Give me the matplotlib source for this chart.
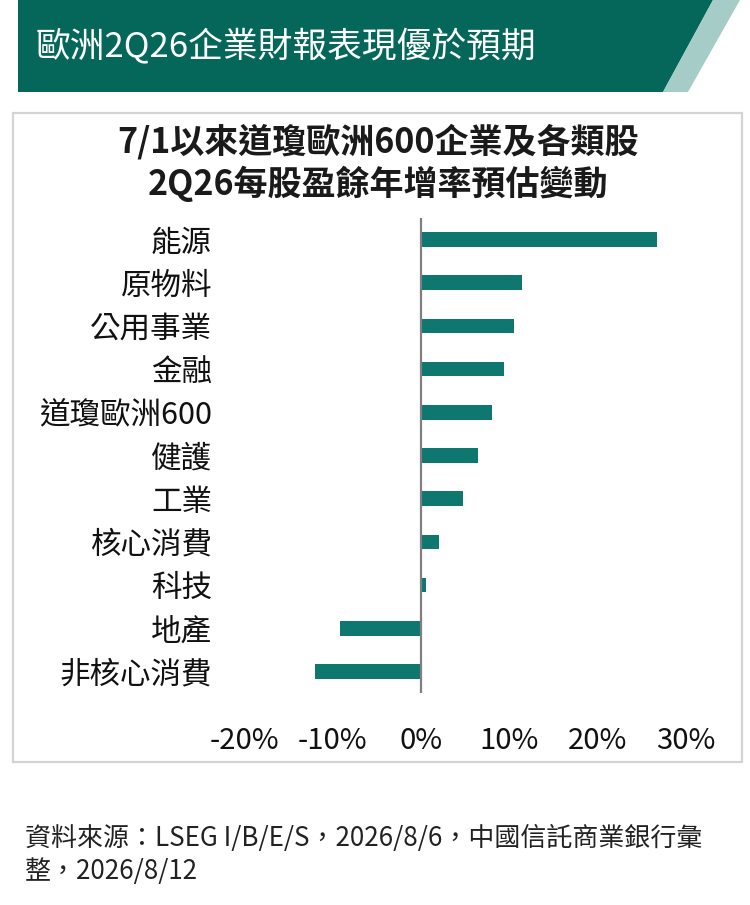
import matplotlib
matplotlib.use('Agg')
import matplotlib.pyplot as plt
from matplotlib.patches import Rectangle, Polygon

plt.rcParams['font.family'] = ['Noto Sans CJK TC', 'DejaVu Sans']

# data
categories = ['能源', '原物料', '公用事業', '金融', '道瓊歐洲600', '健護',
              '工業', '核心消費', '科技', '地產', '非核心消費']
eps_change = [26.7, 11.4, 10.5, 9.4, 8.0, 6.5, 4.8, 2.1, 0.6, -9.1, -12.0]
x_ticks = [-20, -10, 0, 10, 20, 30]
x_tick_labels = ['-20%', '-10%', '0%', '10%', '20%', '30%']

header_title = '歐洲2Q26企業財報表現優於預期'
chart_title = '7/1以來道瓊歐洲600企業及各類股\n2Q26每股盈餘年增率預估變動'
source_note = '資料來源：LSEG I/B/E/S，2026/8/6，中國信託商業銀行彙\n整，2026/8/12'

W, H = 750, 905
BAR_COLOR = '#0d7770'
HEAD_GREEN = '#04675a'
HEAD_LIGHT = '#a6ccc8'

fig = plt.figure(figsize=(W / 100, H / 100), dpi=100)
fig.patch.set_facecolor('white')


def fx(px):
    return px / W


def fy(py):
    return 1 - py / H


# header band with slanted right edge
fig.patches.append(Polygon([(fx(18), fy(0)), (fx(713), fy(0)), (fx(663), fy(92)), (fx(18), fy(92))],
                           closed=True, transform=fig.transFigure, facecolor=HEAD_GREEN,
                           edgecolor='none', zorder=-2))
fig.patches.append(Polygon([(fx(713), fy(0)), (fx(740), fy(0)), (fx(688), fy(92)), (fx(663), fy(92))],
                           closed=True, transform=fig.transFigure, facecolor=HEAD_LIGHT,
                           edgecolor='none', zorder=-2))
fig.text(fx(36), fy(46), header_title, color='white', fontsize=25, fontweight='medium',
         ha='left', va='center')

# chart frame
fig.patches.append(Rectangle((fx(13), fy(762)), fx(742) - fx(13), fy(113) - fy(762),
                             transform=fig.transFigure, facecolor='white',
                             edgecolor='#d4d4d4', linewidth=1.6, zorder=-2))

fig.text(fx(378), fy(163), chart_title, color='#1a1a1a', fontsize=24.5, fontweight='bold',
         ha='center', va='center', linespacing=1.2)

# bar chart
ax = fig.add_axes([fx(244), fy(693), fx(686) - fx(244), fy(218) - fy(693)])
ax.set_zorder(2)
ax.set_facecolor('none')
ypos = list(range(len(categories)))
ax.barh(ypos, eps_change, height=0.34, color=BAR_COLOR, zorder=2)
ax.axvline(0, color='#7f7f7f', linewidth=1.6, zorder=3)

ax.set_xlim(-20, 30)
ax.set_ylim(len(categories) - 0.5, -0.5)
ax.set_xticks(x_ticks)
ax.set_xticklabels(x_tick_labels, fontsize=21, color='#111111')
ax.set_yticks(ypos)
ax.set_yticklabels(categories, fontsize=22, color='#111111')
ax.tick_params(axis='x', length=0, pad=24)
ax.tick_params(axis='y', length=0, pad=23)
for s in ax.spines.values():
    s.set_visible(False)

fig.text(fx(25), fy(855), source_note, color='#222222', fontsize=18.7,
         ha='left', va='center', linespacing=1.3)

fig.savefig('out.png', dpi=100, facecolor='white')
